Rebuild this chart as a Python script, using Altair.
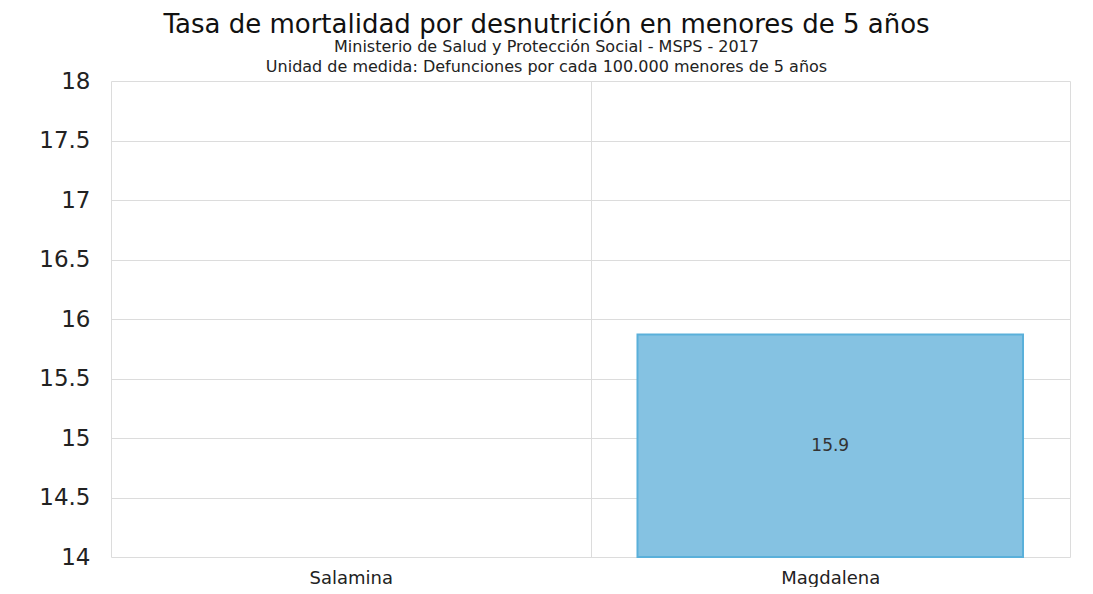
import altair as alt
import pandas as pd

categories = ["Salamina", "Magdalena"]
values = [None, 15.87]
y_ticks = [14, 14.5, 15, 15.5, 16, 16.5, 17, 17.5, 18]
title_text = "Tasa de mortalidad por desnutrición en menores de 5 años"
subtitle_lines = [
    "Ministerio de Salud y Protección Social - MSPS - 2017",
    "Unidad de medida: Defunciones por cada 100.000 menores de 5 años",
]

df = pd.DataFrame({"municipio": categories, "valor": values})

FONT = "DejaVu Sans"
GRID = "#dcdcdc"

x = alt.X(
    "municipio:N",
    sort=categories,
    scale=alt.Scale(paddingInner=0, paddingOuter=0),
    axis=alt.Axis(
        title=None, labelAngle=0, tickBand="extent", ticks=False, domain=False,
        grid=True, gridColor=GRID, labelFontSize=18, labelPadding=12,
        labelColor="#222222", labelFont=FONT,
    ),
)
y_scale = alt.Scale(domain=[14, 18], zero=False, nice=False)
y_axis = alt.Axis(
    title=None, values=y_ticks, format="~g", ticks=False, domain=False,
    grid=True, gridColor=GRID, labelFontSize=23, labelPadding=21,
    labelColor="#222222", labelFont=FONT,
)

base = alt.Chart(df)

bars = base.mark_bar(
    width=alt.RelativeBandSize(0.804), color="#85c2e2", stroke="#5ab0da",
    strokeWidth=2,
).encode(
    x=x,
    y=alt.Y("valor:Q", scale=y_scale, axis=y_axis),
    y2=alt.datum(14),
)

text = base.transform_filter("datum.valor != null").transform_calculate(
    mid="(datum.valor + 14) / 2"
).mark_text(font=FONT, fontSize=17, color="#333333").encode(
    x=alt.X("municipio:N", sort=categories),
    y=alt.Y("mid:Q", scale=y_scale),
    text=alt.Text("valor:Q", format=".1f"),
)

chart = alt.layer(bars, text).properties(
    width=959,
    height=476,
    autosize=alt.AutoSizeParams(type="none"),
    padding={"left": 103, "top": 73, "right": 15, "bottom": 30},
    title=alt.TitleParams(
        text=title_text,
        subtitle=subtitle_lines,
        anchor="middle",
        dx=-44,
        font=FONT,
        fontSize=26,
        fontWeight="normal",
        color="#111111",
        subtitleFont=FONT,
        subtitleFontSize=16,
        subtitleColor="#222222",
        subtitleLineHeight=20,
        subtitlePadding=1,
        offset=-5,
    ),
).configure_view(stroke=None)

chart.save("out.html", embed_options={"renderer": "svg", "actions": False})
